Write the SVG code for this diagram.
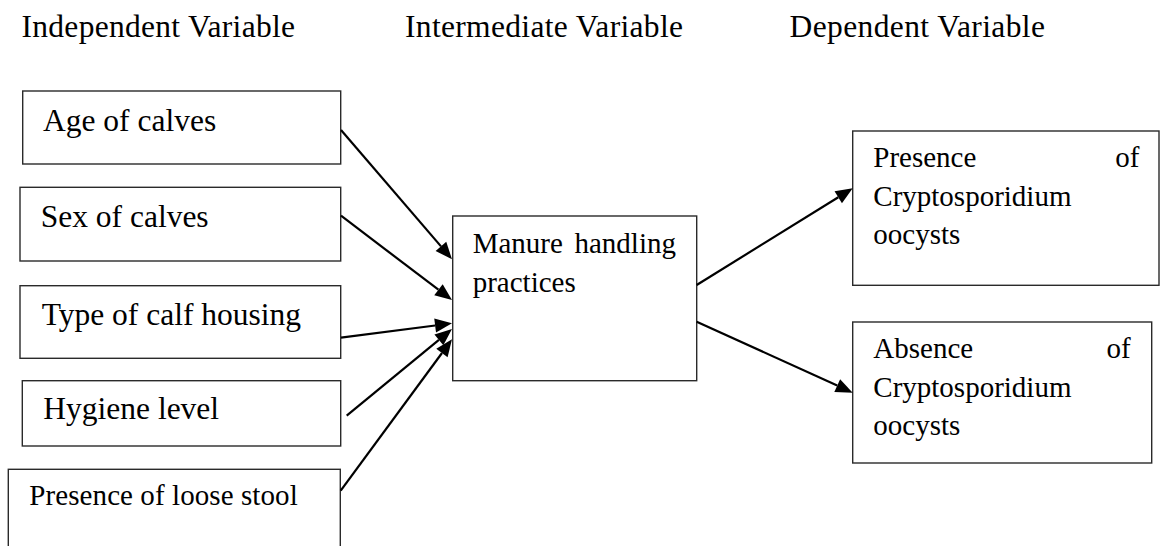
<svg xmlns="http://www.w3.org/2000/svg" width="1160" height="546" viewBox="0 0 1160 546" font-family="Liberation Serif, Times New Roman, Times, serif">
  <style>
    .box { fill: #ffffff; stroke: #2a2a2a; stroke-width: 1.4; }
    .hdr { font-size: 31.5px; }
    .lbl { font-size: 31.5px; }
    .sm { font-size: 29px; }
    .edge { stroke: #000; stroke-width: 2.2; fill: none; }
    .head { fill: #000; stroke: none; }
  </style>
  <defs>
    <!-- arrowhead pointing along +x, tip at the origin -->
    <path id="tip" class="head" d="M0,0 L-17,-7 L-17,7 Z"/>
  </defs>
  <rect width="1160" height="546" fill="#ffffff"/>

  <!-- column headings -->
  <g id="headings" font-family="Liberation Serif, serif" fill="#000">
    <text class="hdr" x="21.5" y="36.7" textLength="273.5">Independent Variable</text>
    <text class="hdr" x="405" y="36.7" textLength="278">Intermediate Variable</text>
    <text class="hdr" x="789.5" y="36.7" textLength="255.5">Dependent Variable</text>
  </g>

  <!-- independent variables -->
  <g id="age" font-family="Liberation Serif, serif">
    <rect class="box" x="22.7" y="91" width="318" height="73"/>
    <text class="lbl" x="43" y="130.7">Age of calves</text>
  </g>
  <g id="sex" font-family="Liberation Serif, serif">
    <rect class="box" x="20" y="187.3" width="320.7" height="73.7"/>
    <text class="lbl" x="40.7" y="226.7">Sex of calves</text>
  </g>
  <g id="housing" font-family="Liberation Serif, serif">
    <rect class="box" x="20" y="285.7" width="320.7" height="72.6"/>
    <text class="lbl" x="41.7" y="325">Type of calf housing</text>
  </g>
  <g id="hygiene" font-family="Liberation Serif, serif">
    <rect class="box" x="22.3" y="380.7" width="318.4" height="65.3"/>
    <text class="lbl" x="43.3" y="419.3">Hygiene level</text>
  </g>
  <g id="stool" font-family="Liberation Serif, serif">
    <rect class="box" x="8.3" y="469.3" width="332" height="90"/>
    <text class="sm" x="29.3" y="505" textLength="268.4">Presence of loose stool</text>
  </g>

  <!-- intermediate variable -->
  <g id="manure" font-family="Liberation Serif, serif">
    <rect class="box" x="452.7" y="216" width="244" height="164.7"/>
    <text class="sm" x="472.7" y="253.3">Manure</text>
    <text class="sm" x="676" y="253.3" text-anchor="end">handling</text>
    <text class="sm" x="472.7" y="292.3">practices</text>
  </g>

  <!-- dependent variables -->
  <g id="presence" font-family="Liberation Serif, serif">
    <rect class="box" x="852.7" y="131" width="306.3" height="154.3"/>
    <text class="sm" x="873.3" y="166.7">Presence</text>
    <text class="sm" x="1139.3" y="166.7" text-anchor="end">of</text>
    <text class="sm" x="873.3" y="205.5">Cryptosporidium</text>
    <text class="sm" x="873.3" y="244">oocysts</text>
  </g>
  <g id="absence" font-family="Liberation Serif, serif">
    <rect class="box" x="852.7" y="322" width="299" height="141"/>
    <text class="sm" x="873.3" y="358.3">Absence</text>
    <text class="sm" x="1130.7" y="358.3" text-anchor="end">of</text>
    <text class="sm" x="873.3" y="397">Cryptosporidium</text>
    <text class="sm" x="873.3" y="435.3">oocysts</text>
  </g>

  <!-- connectors: shaft stops at the head base, head placed at the tip and rotated along the shaft -->
  <g id="connectors">
    <line class="edge" x1="341" y1="130" x2="441" y2="246.4"/>
    <use href="#tip" transform="translate(452 259.3) rotate(49.4)"/>
    <line class="edge" x1="341" y1="215.7" x2="438.4" y2="289.7"/>
    <use href="#tip" transform="translate(452 300) rotate(37.2)"/>
    <line class="edge" x1="341" y1="337.7" x2="435.2" y2="325.5"/>
    <use href="#tip" transform="translate(452 323.3) rotate(-7.4)"/>
    <line class="edge" x1="346.7" y1="415.7" x2="438.9" y2="339.8"/>
    <use href="#tip" transform="translate(452 329) rotate(-39.5)"/>
    <line class="edge" x1="340.7" y1="490.7" x2="442" y2="353"/>
    <use href="#tip" transform="translate(452 339.3) rotate(-53.7)"/>
    <line class="edge" x1="696.7" y1="285" x2="838.3" y2="197.2"/>
    <use href="#tip" transform="translate(852.7 188.3) rotate(-31.8)"/>
    <line class="edge" x1="696.7" y1="321.7" x2="837.2" y2="385.6"/>
    <use href="#tip" transform="translate(852.7 392.7) rotate(24.5)"/>
  </g>
</svg>
